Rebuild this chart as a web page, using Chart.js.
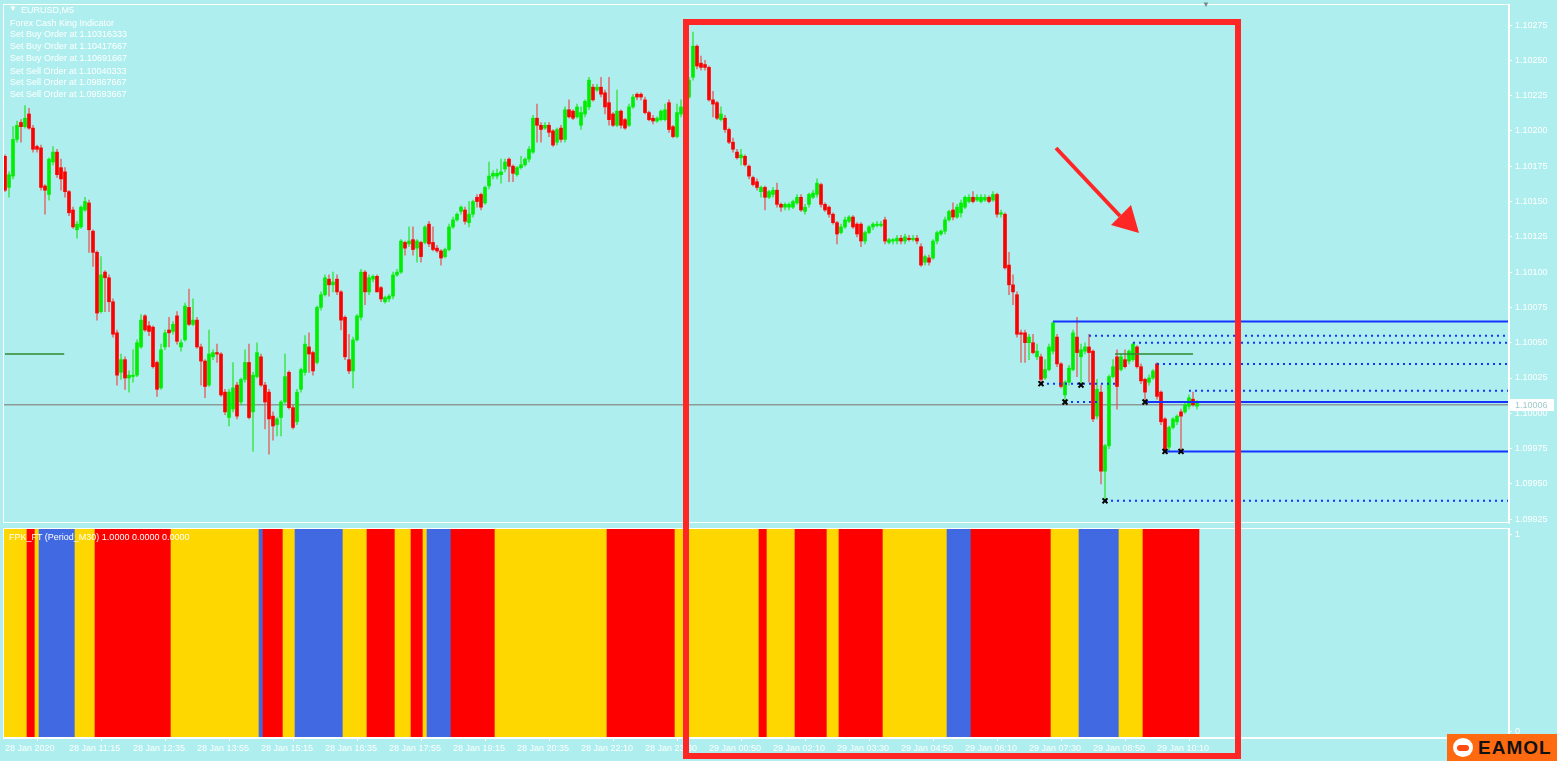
<!DOCTYPE html>
<html><head><meta charset="utf-8">
<script src="https://cdn.jsdelivr.net/npm/chart.js@4.4.1/dist/chart.umd.min.js"></script>
<style>
html,body{margin:0;padding:0;background:#AFEEEE;width:1557px;height:761px;overflow:hidden;position:relative;font-family:'Liberation Sans',Arial,sans-serif}
canvas{position:absolute;left:0}
#c1{top:0}
#c2{top:524px}
.t{position:absolute;color:#fff;font-size:9px;white-space:nowrap;line-height:10px}
#box{position:absolute;left:683px;top:19px;width:558px;height:740px;border:6px solid #FF2626;box-sizing:border-box;pointer-events:none}
#logo{position:absolute;left:1447px;top:734px;width:110px;height:27px;background:#FF6A10}
#logo .txt{position:absolute;left:31px;top:3px;font:bold 19px 'Liberation Sans',Arial,sans-serif;color:#111;letter-spacing:1px}
#logo .ic{position:absolute;left:6px;top:4px;width:20px;height:19px;border-radius:50%;background:#fff}
#logo .ic i{position:absolute;left:4px;top:7px;width:12px;height:6px;border-radius:3px;background:#FF4A10}
</style></head><body>
<canvas id="c1" width="1557" height="524"></canvas>
<canvas id="c2" width="1557" height="237"></canvas>
<div class="t" style="left:9px;top:4px;font-size:8px">&#9660;</div>
<div class="t" style="left:21px;top:5px">EURUSD,M5</div>
<div class="t" style="left:10px;top:18px">Forex Cash King Indicator</div>
<div class="t" style="left:10px;top:29px">Set Buy Order at 1.10316333</div>
<div class="t" style="left:10px;top:41px">Set Buy Order at 1.10417667</div>
<div class="t" style="left:10px;top:53px">Set Buy Order at 1.10691667</div>
<div class="t" style="left:10px;top:66px">Set Sell Order at 1.10040333</div>
<div class="t" style="left:10px;top:77px">Set Sell Order at 1.09867667</div>
<div class="t" style="left:10px;top:89px">Set Sell Order at 1.09593667</div>
<div class="t" style="left:9px;top:532px">FPK_FT (Period_M30) 1.0000 0.0000 0.0000</div>
<div class="t" style="left:1202px;top:0px;color:#7a8a8a;font-size:8px">&#9660;</div>
<div id="box"></div>
<svg style="position:absolute;left:0;top:0" width="1557" height="761">
<line x1="1056" y1="148" x2="1120" y2="216" stroke="#FF2626" stroke-width="4"/>
<polygon points="1139,233 1111,225 1131,205" fill="#FF2626"/>
</svg>
<div id="logo"><div class="ic"><i></i></div><div class="txt">EAMOL</div></div>
<script>
const open = [1.10182,1.10160,1.10168,1.10194,1.10206,1.10203,1.10212,1.10202,1.10189,1.10188,
1.10161,1.10155,1.10178,1.10185,1.10174,1.10171,1.10157,1.10144,1.10130,1.10132,
1.10144,1.10149,1.10129,1.10114,1.10072,1.10100,1.10096,1.10079,1.10057,1.10029,
1.10038,1.10025,1.10026,1.10027,1.10047,1.10069,1.10062,1.10061,1.10036,1.10018,
1.10047,1.10059,1.10058,1.10069,1.10047,1.10052,1.10075,1.10063,1.10066,1.10047,
1.10037,1.10020,1.10040,1.10043,1.10042,1.10015,1.09997,1.10003,1.10020,1.10008,
1.10024,1.10036,1.10001,1.10026,1.10040,1.10020,1.10015,1.09998,1.09992,1.09997,
1.10008,1.10029,1.10004,1.09994,1.10017,1.10029,1.10047,1.10043,1.10036,1.10075,
1.10084,1.10095,1.10091,1.10095,1.10086,1.10068,1.10038,1.10030,1.10052,1.10068,
1.10100,1.10086,1.10095,1.10097,1.10089,1.10079,1.10081,1.10083,1.10098,1.10100,
1.10121,1.10120,1.10123,1.10117,1.10121,1.10121,1.10134,1.10121,1.10117,1.10115,
1.10111,1.10116,1.10132,1.10137,1.10143,1.10144,1.10135,1.10141,1.10153,1.10155,
1.10149,1.10161,1.10168,1.10168,1.10169,1.10173,1.10180,1.10175,1.10169,1.10174,
1.10176,1.10180,1.10185,1.10209,1.10204,1.10202,1.10204,1.10200,1.10192,1.10202,
1.10194,1.10215,1.10214,1.10210,1.10204,1.10212,1.10217,1.10231,1.10229,1.10231,
1.10227,1.10220,1.10212,1.10204,1.10214,1.10208,1.10204,1.10217,1.10226,1.10226,
1.10222,1.10213,1.10209,1.10207,1.10208,1.10208,1.10220,1.10203,1.10196,1.10212,
1.10217,1.10224,1.10238,1.10260,1.10248,1.10247,1.10245,1.10222,1.10220,1.10208,
1.10209,1.10201,1.10192,1.10185,1.10181,1.10182,1.10175,1.10167,1.10164,1.10157,
1.10160,1.10153,1.10155,1.10158,1.10148,1.10146,1.10146,1.10146,1.10149,1.10153,
1.10143,1.10148,1.10153,1.10155,1.10162,1.10148,1.10146,1.10141,1.10135,1.10128,
1.10132,1.10136,1.10139,1.10134,1.10134,1.10122,1.10128,1.10132,1.10133,1.10133,
1.10137,1.10121,1.10122,1.10122,1.10124,1.10122,1.10124,1.10123,1.10124,1.10118,
1.10107,1.10110,1.10110,1.10122,1.10127,1.10129,1.10137,1.10144,1.10139,1.10142,
1.10146,1.10150,1.10153,1.10151,1.10150,1.10151,1.10153,1.10151,1.10155,1.10141,
1.10141,1.10105,1.10091,1.10084,1.10057,1.10057,1.10050,1.10050,1.10040,1.10040,
1.10025,1.10031,1.10044,1.10054,1.10035,1.10013,1.10022,1.10031,1.10054,1.10040,
1.10044,1.10047,1.10044,1.09998,1.10015,1.09959,1.09977,1.10026,1.10040,1.10031,
1.10038,1.10037,1.10038,1.10047,1.10033,1.10024,1.10022,1.10025,1.10035,1.10015,
1.09996,1.09976,1.09990,1.09994,1.10001,1.10001,1.10005,1.10010,1.10005];
const high = [1.10183,1.10171,1.10203,1.10207,1.10208,1.10218,1.10216,1.10204,1.10190,1.10190,
1.10162,1.10181,1.10189,1.10187,1.10180,1.10174,1.10158,1.10146,1.10136,1.10147,
1.10153,1.10151,1.10130,1.10115,1.10111,1.10101,1.10098,1.10081,1.10059,1.10042,
1.10040,1.10030,1.10045,1.10052,1.10070,1.10070,1.10065,1.10062,1.10037,1.10049,
1.10059,1.10068,1.10065,1.10072,1.10052,1.10078,1.10088,1.10081,1.10068,1.10049,
1.10038,1.10059,1.10045,1.10049,1.10043,1.10017,1.10017,1.10036,1.10022,1.10025,
1.10045,1.10049,1.10029,1.10050,1.10042,1.10022,1.10017,1.10001,1.09997,1.10009,
1.10042,1.10030,1.10006,1.10017,1.10032,1.10055,1.10057,1.10044,1.10076,1.10086,
1.10098,1.10098,1.10100,1.10098,1.10087,1.10069,1.10056,1.10054,1.10070,1.10102,
1.10101,1.10098,1.10098,1.10098,1.10090,1.10083,1.10084,1.10100,1.10102,1.10123,
1.10122,1.10132,1.10132,1.10123,1.10122,1.10133,1.10136,1.10132,1.10119,1.10116,
1.10117,1.10134,1.10139,1.10142,1.10147,1.10146,1.10150,1.10151,1.10155,1.10156,
1.10161,1.10178,1.10172,1.10173,1.10180,1.10180,1.10181,1.10176,1.10175,1.10182,
1.10181,1.10189,1.10211,1.10219,1.10206,1.10206,1.10206,1.10201,1.10202,1.10204,
1.10217,1.10222,1.10215,1.10219,1.10217,1.10222,1.10238,1.10233,1.10233,1.10238,
1.10229,1.10238,1.10213,1.10229,1.10215,1.10209,1.10219,1.10226,1.10227,1.10227,
1.10224,1.10214,1.10211,1.10210,1.10215,1.10219,1.10222,1.10204,1.10219,1.10222,
1.10226,1.10238,1.10270,1.10261,1.10253,1.10250,1.10246,1.10228,1.10221,1.10217,
1.10211,1.10202,1.10195,1.10187,1.10187,1.10183,1.10176,1.10168,1.10166,1.10161,
1.10161,1.10158,1.10160,1.10163,1.10149,1.10149,1.10149,1.10151,1.10155,1.10155,
1.10148,1.10156,1.10158,1.10166,1.10163,1.10149,1.10147,1.10142,1.10136,1.10134,
1.10139,1.10140,1.10140,1.10135,1.10135,1.10129,1.10133,1.10135,1.10136,1.10136,
1.10139,1.10124,1.10124,1.10126,1.10126,1.10127,1.10126,1.10126,1.10126,1.10120,
1.10112,1.10112,1.10123,1.10129,1.10130,1.10139,1.10144,1.10149,1.10148,1.10151,
1.10154,1.10155,1.10157,1.10155,1.10155,1.10155,1.10154,1.10157,1.10156,1.10144,
1.10142,1.10114,1.10098,1.10086,1.10059,1.10059,1.10056,1.10056,1.10049,1.10042,
1.10038,1.10049,1.10065,1.10056,1.10036,1.10023,1.10034,1.10059,1.10068,1.10049,
1.10050,1.10056,1.10045,1.10024,1.10020,1.09978,1.10027,1.10038,1.10045,1.10042,
1.10045,1.10045,1.10050,1.10048,1.10035,1.10025,1.10027,1.10031,1.10036,1.10016,
1.09997,1.09991,1.09997,1.09999,1.10003,1.10008,1.10013,1.10015,1.10009];
const low = [1.10157,1.10153,1.10166,1.10192,1.10192,1.10202,1.10201,1.10185,1.10185,1.10158,
1.10141,1.10151,1.10176,1.10167,1.10158,1.10153,1.10140,1.10131,1.10124,1.10131,
1.10143,1.10114,1.10104,1.10066,1.10071,1.10072,1.10072,1.10054,1.10020,1.10024,
1.10017,1.10015,1.10022,1.10026,1.10046,1.10058,1.10055,1.10032,1.10012,1.10017,
1.10045,1.10047,1.10056,1.10049,1.10044,1.10051,1.10062,1.10062,1.10046,1.10020,
1.10011,1.10019,1.10038,1.10036,1.10012,1.09999,1.09991,1.10001,1.09996,1.10006,
1.10022,1.09996,1.09973,1.10025,1.10019,1.09989,1.09971,1.09981,1.09984,1.09984,
1.10007,1.10003,1.09989,1.09992,1.10015,1.10027,1.10029,1.10027,1.10035,1.10073,
1.10083,1.10083,1.10086,1.10084,1.10059,1.10038,1.10028,1.10018,1.10051,1.10066,
1.10077,1.10084,1.10093,1.10086,1.10079,1.10078,1.10079,1.10081,1.10097,1.10099,
1.10112,1.10118,1.10112,1.10107,1.10107,1.10120,1.10118,1.10115,1.10114,1.10105,
1.10110,1.10115,1.10131,1.10136,1.10141,1.10134,1.10132,1.10139,1.10146,1.10144,
1.10148,1.10159,1.10166,1.10166,1.10163,1.10171,1.10164,1.10164,1.10168,1.10173,
1.10175,1.10178,1.10184,1.10192,1.10192,1.10201,1.10196,1.10189,1.10190,1.10192,
1.10192,1.10209,1.10208,1.10209,1.10201,1.10210,1.10215,1.10221,1.10228,1.10224,
1.10212,1.10204,1.10203,1.10203,1.10202,1.10201,1.10203,1.10216,1.10222,1.10222,
1.10212,1.10207,1.10205,1.10206,1.10207,1.10207,1.10199,1.10195,1.10195,1.10210,
1.10215,1.10223,1.10236,1.10244,1.10243,1.10243,1.10221,1.10210,1.10208,1.10207,
1.10199,1.10191,1.10185,1.10180,1.10176,1.10175,1.10166,1.10161,1.10158,1.10153,
1.10144,1.10152,1.10153,1.10146,1.10143,1.10144,1.10144,1.10145,1.10148,1.10143,
1.10141,1.10146,1.10152,1.10153,1.10146,1.10143,1.10139,1.10134,1.10120,1.10127,
1.10131,1.10135,1.10131,1.10125,1.10118,1.10120,1.10127,1.10130,1.10132,1.10132,
1.10120,1.10120,1.10120,1.10120,1.10120,1.10120,1.10122,1.10122,1.10120,1.10104,
1.10105,1.10105,1.10109,1.10120,1.10126,1.10127,1.10136,1.10137,1.10138,1.10139,
1.10145,1.10149,1.10149,1.10150,1.10149,1.10150,1.10149,1.10150,1.10139,1.10139,
1.10102,1.10084,1.10077,1.10054,1.10036,1.10036,1.10038,1.10042,1.10038,1.10021,
1.10024,1.10030,1.10042,1.10033,1.10018,1.10008,1.10020,1.10030,1.10026,1.10020,
1.10042,1.10022,1.09994,1.09996,1.09950,1.09938,1.09975,1.10025,1.10003,1.10030,
1.10032,1.10035,1.10037,1.10032,1.10021,1.10008,1.10020,1.10024,1.10010,1.09992,
1.09972,1.09973,1.09989,1.09992,1.09973,1.10000,1.10003,1.10005,1.10003];
const close = [1.10158,1.10169,1.10194,1.10204,1.10203,1.10209,1.10202,1.10187,1.10187,1.10160,
1.10158,1.10180,1.10185,1.10169,1.10166,1.10157,1.10142,1.10132,1.10134,1.10146,
1.10150,1.10130,1.10114,1.10071,1.10098,1.10096,1.10079,1.10056,1.10027,1.10038,
1.10025,1.10027,1.10027,1.10050,1.10066,1.10059,1.10058,1.10033,1.10017,1.10045,
1.10057,1.10057,1.10063,1.10051,1.10050,1.10076,1.10063,1.10066,1.10047,1.10037,
1.10019,1.10042,1.10043,1.10042,1.10013,1.10001,1.10015,1.10018,1.09998,1.10024,
1.10036,1.09997,1.10027,1.10043,1.10020,1.10008,1.09996,1.09991,1.09996,1.10008,
1.10026,1.10004,1.09990,1.10015,1.10031,1.10049,1.10042,1.10030,1.10075,1.10084,
1.10096,1.10091,1.10093,1.10086,1.10066,1.10040,1.10030,1.10052,1.10069,1.10100,
1.10086,1.10096,1.10097,1.10086,1.10081,1.10082,1.10083,1.10098,1.10100,1.10122,
1.10117,1.10122,1.10116,1.10122,1.10111,1.10132,1.10120,1.10116,1.10115,1.10110,
1.10116,1.10132,1.10137,1.10141,1.10146,1.10136,1.10141,1.10150,1.10150,1.10146,
1.10160,1.10168,1.10170,1.10170,1.10171,1.10178,1.10175,1.10170,1.10174,1.10176,
1.10180,1.10187,1.10209,1.10204,1.10201,1.10204,1.10199,1.10190,1.10201,1.10194,
1.10215,1.10210,1.10209,1.10217,1.10213,1.10221,1.10236,1.10222,1.10231,1.10226,
1.10217,1.10208,1.10204,1.10214,1.10204,1.10202,1.10217,1.10224,1.10224,1.10224,
1.10213,1.10208,1.10207,1.10209,1.10214,1.10215,1.10201,1.10196,1.10213,1.10217,
1.10224,1.10236,1.10260,1.10246,1.10245,1.10245,1.10222,1.10219,1.10209,1.10212,
1.10201,1.10192,1.10187,1.10181,1.10183,1.10176,1.10168,1.10162,1.10160,1.10160,
1.10153,1.10157,1.10158,1.10148,1.10146,1.10148,1.10148,1.10150,1.10153,1.10144,
1.10146,1.10155,1.10156,1.10163,1.10148,1.10144,1.10141,1.10135,1.10127,1.10132,
1.10137,1.10139,1.10132,1.10127,1.10122,1.10128,1.10132,1.10134,1.10134,1.10134,
1.10122,1.10123,1.10123,1.10124,1.10122,1.10125,1.10123,1.10124,1.10122,1.10105,
1.10111,1.10107,1.10122,1.10128,1.10129,1.10137,1.10143,1.10139,1.10146,1.10149,
1.10153,1.10153,1.10150,1.10153,1.10153,1.10153,1.10150,1.10155,1.10141,1.10142,
1.10103,1.10091,1.10086,1.10056,1.10056,1.10050,1.10054,1.10043,1.10044,1.10024,
1.10031,1.10047,1.10064,1.10035,1.10019,1.10022,1.10032,1.10057,1.10043,1.10045,
1.10047,1.10043,1.09996,1.10017,1.09959,1.09977,1.10026,1.10033,1.10019,1.10040,
1.10033,1.10044,1.10049,1.10033,1.10023,1.10015,1.10025,1.10030,1.10012,1.09994,
1.09973,1.09990,1.09996,1.09998,1.09998,1.10006,1.10011,1.10006,1.10008];

// time axis labels (every 16 bars)
const timeLabels = ['28 Jan 2020','28 Jan 11:15','28 Jan 12:35','28 Jan 13:55','28 Jan 15:15','28 Jan 16:35','28 Jan 17:55','28 Jan 19:15','28 Jan 20:35','28 Jan 22:10','28 Jan 23:30','29 Jan 00:50','29 Jan 02:10','29 Jan 03:30','29 Jan 04:50','29 Jan 06:10','29 Jan 07:30','29 Jan 08:50','29 Jan 10:10'];
const labelEvery = 16;
const priceTickStep = 0.00025;
const currentPrice = 1.10006;

// FPK_FT indicator state runs (Y=yellow, R=red, B=blue)
const indStates  = ['Y','R','Y','B','Y','R','Y','B','R','Y','B','Y','R','Y','R','Y','B','R','Y','R','Y','R','Y','R','Y','R','Y','B','R','Y','B','Y','R'];
const indLengths = [6,2,1,9,5,19,22,1,5,3,12,6,7,4,3,1,6,11,28,17,21,2,7,8,3,11,16,6,20,7,10,6,14];

// order levels: price, start bar, end bar, style
const levelPrice = [1.10065,1.10055,1.10050,1.10035,1.10021,1.10008,1.10008,1.10016,1.09973,1.09938];
const levelStart = [262,271,282,288,259,265,285,296,290,275];
const levelEnd   = [376,376,376,376,277.5,273,376,376,376,376];
const levelDash  = [false,true,true,true,true,true,false,true,false,true];
const greenPrice = [1.10042,1.10042];
const greenStart = [0,277.5];
const greenEnd   = [14.8,297];
// swing markers
const markBar   = [259,265,269,275,285,290,294];
const markPrice = [1.10021,1.10008,1.10020,1.09938,1.10008,1.09973,1.09973];

const GREEN='#00EE00', RED='#FF0000';
const XMIN=-0.5, XMAX=376;
const FONT={family:"'Liberation Sans', Arial, sans-serif", size:9};
const bars = close.map((_,i)=>i);
const isUp = i => close[i] >= open[i];

const framePlugin = {
  id:'frame',
  afterDraw(chart){
    const {ctx, chartArea:a} = chart;
    ctx.save();
    ctx.strokeStyle='#FFFFFF'; ctx.lineWidth=1;
    ctx.strokeRect(a.left+0.5, a.top+0.5, a.right-a.left-1, a.bottom-a.top-1);
    if (chart.canvas.id==='c1') {
      const y = chart.scales.y.getPixelForValue(currentPrice);
      ctx.fillStyle='#FFFFFF';
      ctx.fillRect(a.right+1, Math.round(y)-6, 44, 12);
      ctx.fillStyle='#9EC9C9';
      ctx.font="9px 'Liberation Sans', Arial, sans-serif";
      ctx.textBaseline='middle';
      ctx.fillText(currentPrice.toFixed(5), a.right+6, Math.round(y)+0.5);
    }
    ctx.restore();
  }
};

const fixY = s => { s.width = 48; s.paddingTop = 0; s.paddingBottom = 0; };

const datasets = [];
datasets.push({type:'scatter', data: markBar.map((b,k)=>({x:b,y:markPrice[k]})), pointStyle:'crossRot', pointRadius:3.5, borderColor:'#000', backgroundColor:'#000', pointBorderWidth:2, order:0});
levelPrice.forEach((p,k)=>{
  datasets.push({type:'line', data:[{x:levelStart[k],y:p},{x:levelEnd[k],y:p}], borderColor:'#1533FF', borderWidth:2, borderDash: levelDash[k]?[2,4]:[], pointRadius:0, order:1});
});
greenPrice.forEach((p,k)=>{
  datasets.push({type:'line', data:[{x:greenStart[k],y:p},{x:greenEnd[k],y:p}], borderColor:'#2E8B2E', borderWidth:1.5, pointRadius:0, order:1});
});
datasets.push({type:'bar', data: bars.map(i=>({x:i,y:[open[i],close[i]]})), barThickness:3, minBarLength:1, grouped:false,
  backgroundColor: c => isUp(c.dataIndex)?GREEN:RED, order:2});
datasets.push({type:'bar', data: bars.map(i=>({x:i,y:[low[i],high[i]]})), barThickness:1, grouped:false,
  backgroundColor: c => isUp(c.dataIndex)?'rgba(40,225,40,0.75)':'rgba(235,70,70,0.7)', order:3});
datasets.push({type:'line', data:[{x:XMIN,y:currentPrice},{x:XMAX,y:currentPrice}], borderColor:'#8E9A9A', borderWidth:1.5, pointRadius:0, order:4});

new Chart(document.getElementById('c1'), {
  type:'bar',
  data:{datasets},
  options:{
    responsive:false, animation:false, devicePixelRatio:1,
    layout:{autoPadding:false, padding:{left:3, top:4, right:0, bottom:1}},
    plugins:{legend:{display:false}, tooltip:{enabled:false}},
    scales:{
      x:{type:'linear', min:XMIN, max:XMAX, display:false, offset:false},
      y:{position:'right', min:1.099223, max:1.102899, afterFit:fixY,
         ticks:{stepSize:priceTickStep, includeBounds:false, color:'#FFFFFF', font:FONT, padding:3, callback:v=>Number(v).toFixed(5)},
         grid:{drawOnChartArea:false, color:'#FFFFFF', tickLength:3}, border:{color:'#FFFFFF'}}
    }
  },
  plugins:[framePlugin]
});

// indicator
const stateColor = {Y:'#FFD700', R:'#FF0000', B:'#4169E1'};
const indColors = [];
indStates.forEach((s,k)=>{ for(let j=0;j<indLengths[k];j++) indColors.push(stateColor[s]); });
const tickBars = timeLabels.map((_,k)=>k*labelEvery);

new Chart(document.getElementById('c2'), {
  type:'bar',
  data:{datasets:[{data: indColors.map((_,i)=>({x:i,y:[0,1]})), backgroundColor: indColors, barThickness:4, grouped:false}]},
  options:{
    responsive:false, animation:false, devicePixelRatio:1,
    layout:{autoPadding:false, padding:{left:3, top:4, right:0, bottom:0}},
    plugins:{legend:{display:false}, tooltip:{enabled:false}},
    scales:{
      x:{type:'linear', min:XMIN, max:XMAX, offset:false,
         afterFit: s => { s.height = 23; s.paddingLeft = 0; s.paddingRight = 0; },
         afterBuildTicks: a => { a.ticks = tickBars.map(v=>({value:v})); },
         ticks:{autoSkip:false, maxRotation:0, align:'start', color:'#FFFFFF', font:FONT, padding:2, callback:(v,i)=>timeLabels[i]},
         grid:{drawOnChartArea:false, color:'#FFFFFF', tickLength:3}, border:{color:'#FFFFFF'}},
      y:{position:'right', min:0, max:1, afterFit:fixY,
         afterBuildTicks: a => { a.ticks = [{value:0.033},{value:0.967}]; },
         ticks:{color:'#FFFFFF', font:FONT, padding:3, callback:v=> v>0.5?'1':'0'},
         grid:{drawOnChartArea:false, color:'#FFFFFF', tickLength:3}, border:{color:'#FFFFFF'}}
    }
  },
  plugins:[framePlugin]
});
</script>
</body></html>
